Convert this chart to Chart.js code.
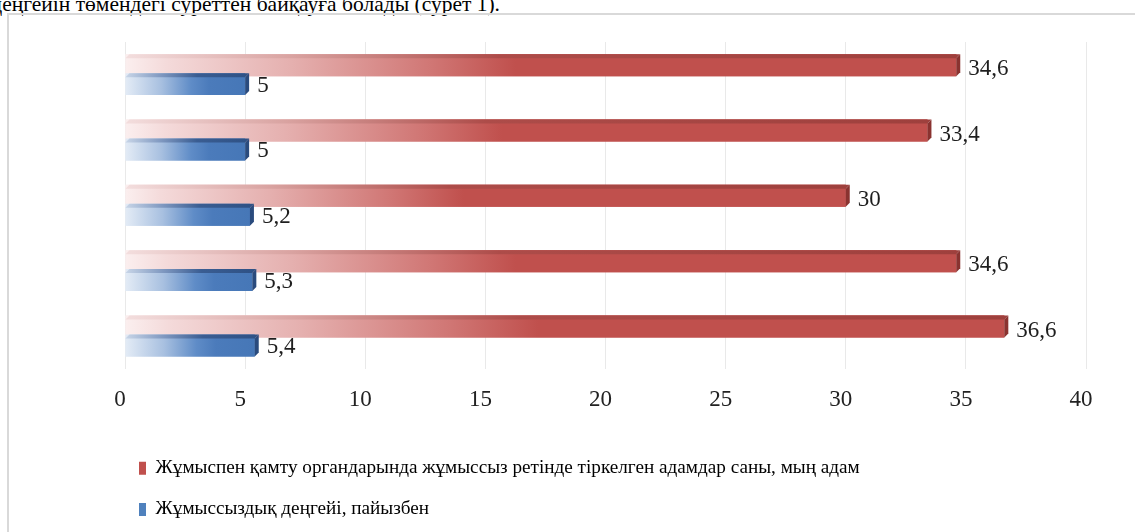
<!DOCTYPE html>
<html>
<head>
<meta charset="utf-8">
<script src="https://cdn.jsdelivr.net/npm/chart.js@4"></script>
<style>
  html, body { margin: 0; padding: 0; background: #ffffff; width: 1135px; height: 532px; overflow: hidden; }
  #head { position: absolute; right: 635px; top: -8px; font-family: 'Liberation Serif', 'Times New Roman', serif; font-size: 21.5px; line-height: 24px; white-space: nowrap; color: #000; }
  #frame { position: absolute; left: 7px; top: 13px; width: 1140px; height: 530px; border-left: 2px solid #d9d9d9; border-top: 2px solid #d9d9d9; }
  #c { position: absolute; left: 0; top: 0; }
</style>
</head>
<body>
<div id="head">деңгейін төмендегі суреттен байқауға болады (сурет 1).</div>
<div id="frame"></div>
<canvas id="c" width="1135" height="532"></canvas>
<script>
// ---- data (categories listed bottom → top, as in the original chart) ----
const categories = ['1', '2', '3', '4', '5'];
const registeredUnemployed = [36.6, 34.6, 30, 33.4, 34.6];   // thousand people
const unemploymentRate = [5.4, 5.3, 5.2, 5, 5];               // percent
const seriesNames = [
  'Жұмыспен қамту органдарында жұмыссыз ретінде тіркелген адамдар саны, мың адам',
  'Жұмыссыздық деңгейі, пайызбен'
];
const xMin = 0, xMax = 40, xStep = 5;

// ---- styles ----
const FONT = "'Liberation Serif', 'Times New Roman', serif";
const RED = '#c0504d', BLUE = '#4677b7';
const styles = {
  red: {
    solid: RED,
    front: [[0, '#fbefef'], [0.05, '#f4dada'], [0.2, '#e5b0af'], [0.37, '#d07674'], [0.47, RED], [1, RED]],
    top: [[0, '#f3dede'], [0.2, '#d9a3a1'], [0.45, '#ad4c49'], [1, '#9e403d']],
    cap: '#8a3330',
    labelDy: 4
  },
  blue: {
    solid: '#4f81bd',
    front: [[0, '#e4ecf6'], [0.3, '#a8c0e0'], [0.55, '#5f8cc7'], [0.7, '#4b7bbb'], [1, BLUE]],
    top: [[0, '#c9d6e8'], [0.3, '#7f98c0'], [0.6, '#3a5d92'], [1, '#2f5286']],
    cap: '#2a4b7d',
    labelDy: 2
  }
};
const DEPTH = 4;

function makeGrad(chart, value, stops) {
  const xs = chart.scales.x;
  const x0 = xs.getPixelForValue(0);
  const x1 = xs.getPixelForValue(value);
  const g = chart.ctx.createLinearGradient(x0, 0, Math.max(x1, x0 + 1), 0);
  stops.forEach(s => g.addColorStop(s[0], s[1]));
  return g;
}
function frontColor(key) {
  return (ctx) => {
    const chart = ctx.chart;
    if (!chart.chartArea || !chart.scales.x || ctx.raw == null) return styles[key].solid;
    return makeGrad(chart, ctx.raw, styles[key].front);
  };
}

// redraw bars in dataset order (so the lower blue bar sits over the red one) and add 3D faces
const bar3d = {
  id: 'bar3d',
  afterDatasetsDraw(chart) {
    const c = chart.ctx;
    chart.data.datasets.forEach((ds, di) => {
      const meta = chart.getDatasetMeta(di);
      const st = styles[ds.styleKey];
      meta.data.forEach((el, i) => {
        el.draw(c, chart.chartArea);
        const p = el.getProps(['x', 'y', 'base', 'height'], true);
        const top = p.y - p.height / 2, bottom = p.y + p.height / 2;
        const d = DEPTH;
        c.save();
        c.beginPath();
        c.moveTo(p.base, top + d);
        c.lineTo(p.base + d, top);
        c.lineTo(p.x + d, top);
        c.lineTo(p.x, top + d);
        c.closePath();
        c.fillStyle = makeGrad(chart, ds.data[i], st.top);
        c.fill();
        c.beginPath();
        c.moveTo(p.x, top + d);
        c.lineTo(p.x + d, top);
        c.lineTo(p.x + d, bottom - d);
        c.lineTo(p.x, bottom);
        c.closePath();
        c.fillStyle = st.cap;
        c.fill();
        c.restore();
      });
    });
  }
};

const valueLabels = {
  id: 'valueLabels',
  afterDatasetsDraw(chart) {
    const c = chart.ctx;
    c.save();
    c.font = '23px ' + FONT;
    c.fillStyle = '#1e1e1e';
    c.textAlign = 'left';
    c.textBaseline = 'middle';
    chart.data.datasets.forEach((ds, di) => {
      const meta = chart.getDatasetMeta(di);
      const st = styles[ds.styleKey];
      meta.data.forEach((el, i) => {
        const txt = String(ds.data[i]).replace('.', ',');
        c.fillText(txt, el.x + DEPTH + 8, el.y + st.labelDy);
      });
    });
    c.restore();
  }
};

new Chart(document.getElementById('c'), {
  type: 'bar',
  data: {
    labels: categories,
    datasets: [
      { label: seriesNames[0], data: registeredUnemployed, styleKey: 'red',
        backgroundColor: frontColor('red'), borderWidth: 0 },
      { label: seriesNames[1], data: unemploymentRate, styleKey: 'blue',
        backgroundColor: frontColor('blue'), borderWidth: 0 }
    ]
  },
  options: {
    indexAxis: 'y',
    responsive: false,
    animation: false,
    events: [],
    categoryPercentage: 0.58,
    barPercentage: 1.16,
    layout: { padding: { left: 117, right: 49, top: 42, bottom: 3 } },
    scales: {
      x: {
        min: xMin, max: xMax,
        ticks: { stepSize: xStep, labelOffset: -5, padding: 18, color: '#222',
                 font: { family: FONT, size: 23 } },
        grid: { color: '#e9e9e9', lineWidth: 1, drawTicks: false },
        border: { display: false },
        afterFit: (s) => { s.height = 68; }
      },
      y: {
        reverse: true,
        ticks: { display: false },
        grid: { display: false },
        border: { display: false },
        afterFit: (s) => { s.width = 8; }
      }
    },
    plugins: {
      tooltip: { enabled: false },
      legend: {
        position: 'bottom',
        align: 'start',
        labels: {
          boxWidth: 7, boxHeight: 13, padding: 22,
          color: '#1e1e1e',
          font: { family: FONT, size: 19.2 },
          generateLabels: (chart) => chart.data.datasets.map((ds, i) => ({
            text: ds.label,
            fillStyle: styles[ds.styleKey].solid,
            strokeStyle: styles[ds.styleKey].solid,
            lineWidth: 0,
            hidden: false,
            datasetIndex: i
          }))
        }
      }
    }
  },
  plugins: [bar3d, valueLabels]
});
</script>
</body>
</html>
